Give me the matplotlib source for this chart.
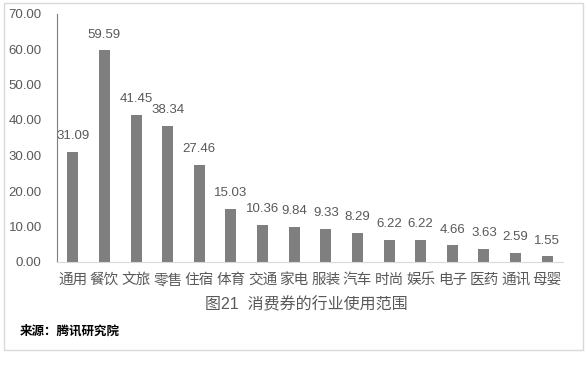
import matplotlib.pyplot as plt
from matplotlib.patches import Rectangle

plt.rcParams['font.family'] = ['Liberation Sans', 'Noto Sans CJK SC', 'DejaVu Sans']

# data
categories = ['通用', '餐饮', '文旅', '零售', '住宿', '体育', '交通', '家电',
              '服装', '汽车', '时尚', '娱乐', '电子', '医药', '通讯', '母婴']
values = [31.09, 59.59, 41.45, 38.34, 27.46, 15.03, 10.36, 9.84,
          9.33, 8.29, 6.22, 6.22, 4.66, 3.63, 2.59, 1.55]
yticks = [0, 10, 20, 30, 40, 50, 60, 70]

W, H = 587, 365
fig = plt.figure(figsize=(W / 100, H / 100), dpi=100)
fig.patch.set_facecolor('white')

# outer frame
fig.patches.append(Rectangle((4 / W, 1 - 350 / H), 579 / W, 347 / H,
                             transform=fig.transFigure, fill=False,
                             edgecolor='#d9d9d9', linewidth=1))

ax = fig.add_axes([57 / W, 1 - 262 / H, 506 / W, 248.5 / H])
x = range(len(categories))
ax.bar(x, values, width=0.35, color='#7f7f7f')
ax.set_xlim(-0.5, len(categories) - 0.5)
ax.set_ylim(0, 70)
ax.set_yticks(yticks)
ax.set_yticklabels(['%.2f' % v for v in yticks], fontsize=9.5, color='#595959')
ax.set_xticks(list(x))
ax.set_xticklabels(categories, fontsize=10.5, color='#595959')
ax.tick_params(axis='y', length=0, pad=11)
ax.tick_params(axis='x', length=0, pad=8)

for s in ['top', 'right']:
    ax.spines[s].set_visible(False)
ax.spines['left'].set_color('#7f7f7f')
ax.spines['bottom'].set_color('#d9d9d9')

for i, v in enumerate(values):
    ax.annotate('%.2f' % v, (i, v), xytext=(0, 7), textcoords='offset points',
                ha='center', va='bottom', fontsize=9.5, color='#595959')

fig.text(306 / W, 1 - 305 / H, '图21  消费券的行业使用范围', ha='center', va='center',
         fontsize=11.5, color='#595959')
fig.text(20 / W, 1 - 331 / H, '来源：腾讯研究院', ha='left', va='center',
         fontsize=9, color='black', fontweight='bold')

fig.savefig('out.png', dpi=100)
